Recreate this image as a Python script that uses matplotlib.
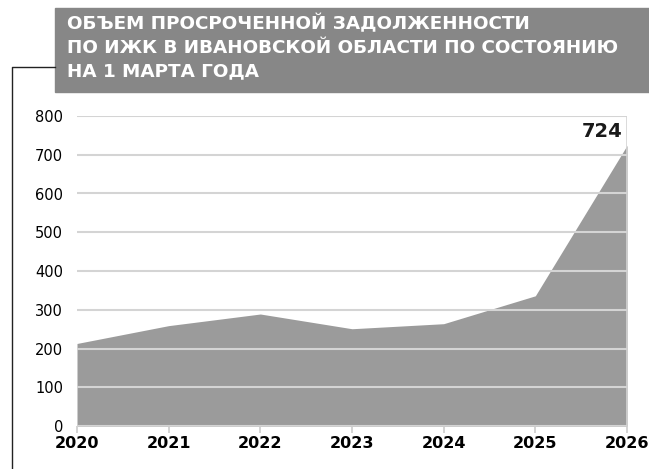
import matplotlib.pyplot as plt
from matplotlib.patches import Rectangle
from matplotlib.lines import Line2D

plt.rcParams['font.family'] = ['DejaVu Sans']

years = [2020, 2021, 2022, 2023, 2024, 2025, 2026]
values = [213, 259, 289, 251, 264, 336, 724]
yticks = [0, 100, 200, 300, 400, 500, 600, 700, 800]
title = "ОБЪЕМ ПРОСРОЧЕННОЙ ЗАДОЛЖЕННОСТИ\nПО ИЖК В ИВАНОВСКОЙ ОБЛАСТИ ПО СОСТОЯНИЮ\nНА 1 МАРТА ГОДА"

fig = plt.figure(figsize=(6.49, 4.69), dpi=100)
W, H = 649, 469

# title box + bracket
fig.patches.append(Rectangle((55 / W, 1 - 92 / H), 594 / W, 84 / H,
                             transform=fig.transFigure, color='#878787', zorder=0))
fig.text(67 / W, 1 - 14 / H, title, color='white', fontsize=13.2, fontweight='bold',
         va='top', ha='left', linespacing=1.4)
fig.lines.append(Line2D([55 / W, 12 / W, 12 / W], [1 - 67 / H, 1 - 67 / H, 0],
                        transform=fig.transFigure, color='#222222', lw=1))

ax = fig.add_axes([77 / W, 1 - 426 / H, 550 / W, 310 / H])
ax.fill_between(years, values, 0, color='#9b9b9b', lw=0, zorder=1)
ax.set_xlim(2020, 2026)
ax.set_ylim(0, 800)
ax.set_yticks(yticks)
ax.set_xticks(years)
ax.set_xticklabels([str(y) for y in years], fontsize=11.5, fontweight='bold')
ax.tick_params(axis='y', length=0, labelsize=10.5, pad=10)
ax.tick_params(axis='x', length=5, color='#cccccc', width=1.2, pad=2)
for t in yticks:
    ax.axhline(t, color='#d4d4d4', lw=1.5, zorder=2)
ax.axvline(2026, color='#d4d4d4', lw=1.2, zorder=2)
for s in ax.spines.values():
    s.set_visible(False)

ax.annotate(str(values[-1]), (years[-1], values[-1]), xytext=(-3, 3),
            textcoords='offset points', ha='right', va='bottom',
            fontsize=14, fontweight='bold', color='#1a1a1a')

fig.savefig('out.png', dpi=100)
